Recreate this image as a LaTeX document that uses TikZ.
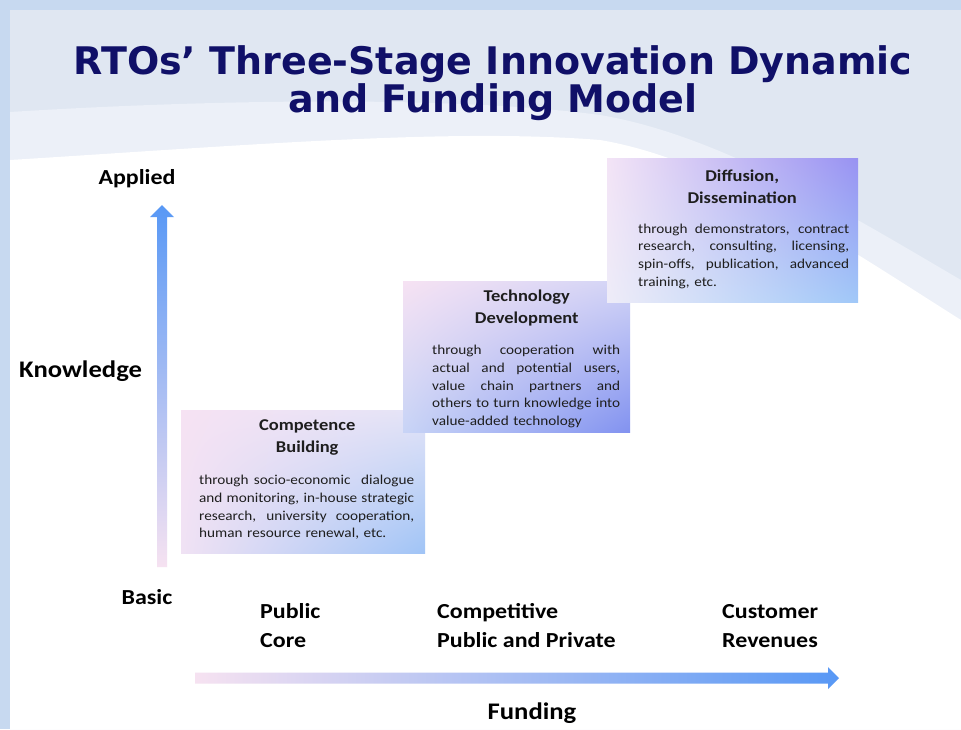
\documentclass[tikz,border=0pt]{standalone}
\usepackage{fontspec}
\setmainfont{Carlito}[FakeStretch=1.12]
\newfontfamily\titlefont{DejaVu Sans}
\usetikzlibrary{positioning}
\usetikzlibrary{calc}
\usetikzlibrary{shadings}
\definecolor{frame blue}{RGB}{199,217,240}
\definecolor{sky grey}{RGB}{224,231,242}
\definecolor{sky light}{RGB}{236,240,248}
\definecolor{title navy}{RGB}{16,16,104}
\definecolor{axis blue}{RGB}{88,152,245}
\definecolor{axis mid}{RGB}{150,194,246}
\definecolor{axis pink}{RGB}{246,226,241}
\definecolor{stage ink}{RGB}{30,30,30}
% corner colours of the three stage panels
\definecolor{one ul}{RGB}{246,226,243}
\definecolor{one ur}{RGB}{228,228,247}
\definecolor{one ll}{RGB}{240,226,244}
\definecolor{one lr}{RGB}{160,196,246}
\definecolor{two ul}{RGB}{246,226,243}
\definecolor{two ur}{RGB}{210,212,246}
\definecolor{two ll}{RGB}{200,212,246}
\definecolor{two lr}{RGB}{130,146,240}
\definecolor{three ul}{RGB}{243,228,246}
\definecolor{three ur}{RGB}{152,146,242}
\definecolor{three ll}{RGB}{238,236,248}
\definecolor{three lr}{RGB}{160,200,248}
% one justified line of a stage description
\newlength{\stagewidth}
\newcommand{\stageline}[1]{{\spaceskip=0pt\xspaceskip=0pt%
    \makebox[\stagewidth][s]{#1}}}
\tikzset{
    % Shaded panel of one stage, colours given corner by corner
    stage box/.style n args={4}{
        upper left=#1, upper right=#2, lower left=#3, lower right=#4,
        inner sep=0pt, anchor=north west},
%
    % Bold two line heading of a stage
    stage title/.style={
        font=\fontsize{16.5}{22}\selectfont\bfseries, align=center,
        text=stage ink, inner sep=0pt},
%
    % Description under the heading, lines set by hand
    stage text/.style={
        font=\fontsize{13.6}{17.7}\selectfont, align=left,
        text width=\stagewidth, text=stage ink, inner sep=0pt},
%
    % Ticks along the axes
    axis label/.style={font=\fontsize{21.4}{29}\selectfont\bfseries,
        align=left, inner sep=0pt},
    % Names of the two axes
    axis name/.style={font=\fontsize{23.8}{29}\selectfont\bfseries,
        inner sep=0pt}}

\begin{document}
\begin{tikzpicture}[x=1pt, y=-1pt]
\useasboundingbox (0,0) rectangle (961,729);

% Slide background with its swoosh
\fill [frame blue] (0,0) rectangle (961,729);
\fill [sky grey] (10,10) rectangle (961,729);
\fill [sky light] (10,112) .. controls (200,100) and (450,95) .. (600,115)
    .. controls (720,135) and (850,215) .. (961,280)
    -- (961,729) -- (10,729) -- cycle;
\fill [white] (10,160) .. controls (250,145) and (450,128) .. (600,140)
    .. controls (720,160) and (850,250) .. (961,320)
    -- (961,729) -- (10,729) -- cycle;

\node [font=\titlefont\bfseries\fontsize{38}{35}\selectfont, text=title navy,
    align=center, inner sep=0pt]
    (title) at (493,83) {RTOs’ Three-Stage Innovation Dynamic\\and Funding Model};

% Stage 1
\node [stage box={one ul}{one ur}{one ll}{one lr},
    minimum width=244pt, minimum height=143pt] (competence) at (181,410) {};
\node [stage title] (competence title) at ($(competence.north)+(4,27)$)
    {Competence\\Building};
\setlength{\stagewidth}{215pt}
\node [stage text] (competence text)
    at ($(competence.north)+(3.5,97.5)$)
    {\stageline{through socio-economic\ \ dialogue}\\
     \stageline{and monitoring, in-house strategic}\\
     \stageline{research, university cooperation,}\\
     human resource renewal, etc.};

% Stage 2
\node [stage box={two ul}{two ur}{two ll}{two lr},
    minimum width=227pt, minimum height=151pt] (technology) at (403,281) {};
\node [stage title] (technology title) at ($(technology.north)+(10,27)$)
    {Technology\\Development};
\setlength{\stagewidth}{188pt}
\node [stage text] (technology text)
    at ($(technology.north)+(9.5,105.5)$)
    {\stageline{through cooperation with}\\
     \stageline{actual and potential users,}\\
     \stageline{value chain partners and}\\
     \stageline{others to turn knowledge into}\\
     value-added technology};

% Stage 3
\node [stage box={three ul}{three ur}{three ll}{three lr},
    minimum width=251pt, minimum height=144pt] (diffusion) at (607,158) {};
\node [stage title] (diffusion title) at ($(diffusion.north)+(9.5,29)$)
    {Diffusion,\\Dissemination};
\setlength{\stagewidth}{211pt}
\node [stage text] (diffusion text)
    at ($(diffusion.north)+(11,98)$)
    {\stageline{through demonstrators, contract}\\
     \stageline{research, consulting, licensing,}\\
     \stageline{spin-offs, publication, advanced}\\
     training, etc.};

% Knowledge axis
\coordinate (knowledge foot) at (162,567);
\coordinate (knowledge tip) at (162,205);
\shade [bottom color=axis pink, middle color=axis mid, top color=axis blue]
    ($(knowledge foot)+(-5,0)$) -- ($(knowledge tip)+(-5,12)$)
    -- ($(knowledge tip)+(-12,12)$) -- (knowledge tip)
    -- ($(knowledge tip)+(12,12)$) -- ($(knowledge tip)+(5,12)$)
    -- ($(knowledge foot)+(5,0)$) -- cycle;
\node [axis label] (applied) at (137,179) {Applied};
\node [axis label] (basic) at (147,597) {Basic};
\node [axis name, anchor=west] (knowledge) at (19,371) {Knowledge};

% Funding axis
\coordinate (funding foot) at (195,678);
\coordinate (funding tip) at (839,678);
\shade [left color=axis pink, middle color=axis mid, right color=axis blue]
    ($(funding foot)+(0,-5.5)$) -- ($(funding tip)+(-11,-5.5)$)
    -- ($(funding tip)+(-11,-11)$) -- (funding tip)
    -- ($(funding tip)+(-11,11)$) -- ($(funding tip)+(-11,5.5)$)
    -- ($(funding foot)+(0,5.5)$) -- cycle;
\node [axis label, anchor=west] (public core) at (260,626) {Public\\Core};
\node [axis label, anchor=west] (competitive) at (437,626)
    {Competitive\\Public and Private};
\node [axis label, anchor=west] (customer) at (722,626) {Customer\\Revenues};
\node [axis name] (funding) at (532,713) {Funding};

\end{tikzpicture}
\end{document}
